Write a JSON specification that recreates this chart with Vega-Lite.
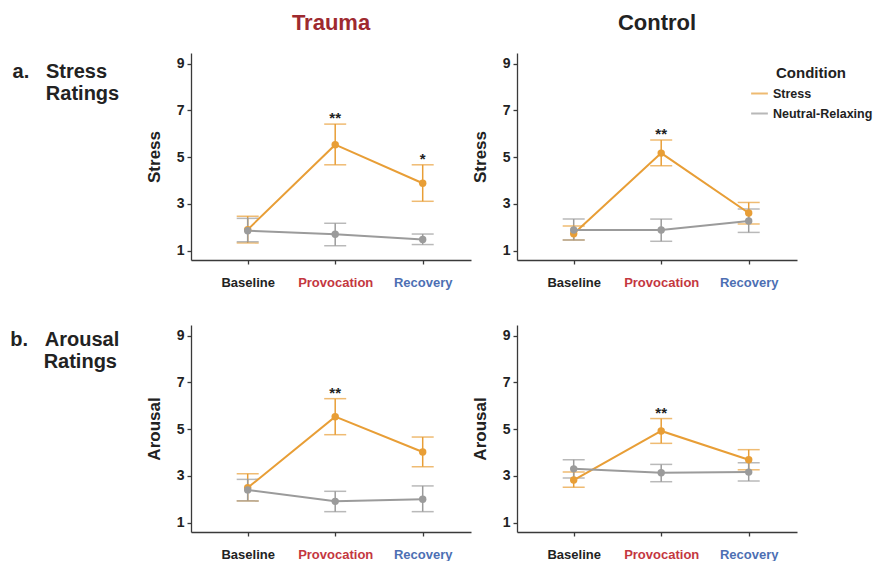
{
  "$schema": "https://vega.github.io/schema/vega-lite/v6.json",
  "padding": {"left": 10, "top": 12, "right": 0, "bottom": 0},
  "background": "white",
  "data": {"values": [
    {"group":"Trauma","measure":"Stress","phase":"Baseline","condition":"Stress","mean":1.9,"lower":1.33,"upper":2.47,"sig":""},
    {"group":"Trauma","measure":"Stress","phase":"Provocation","condition":"Stress","mean":5.53,"lower":4.67,"upper":6.41,"sig":"**"},
    {"group":"Trauma","measure":"Stress","phase":"Recovery","condition":"Stress","mean":3.88,"lower":3.11,"upper":4.67,"sig":"*"},
    {"group":"Control","measure":"Stress","phase":"Baseline","condition":"Stress","mean":1.72,"lower":1.45,"upper":2.05,"sig":""},
    {"group":"Control","measure":"Stress","phase":"Provocation","condition":"Stress","mean":5.17,"lower":4.63,"upper":5.73,"sig":"**"},
    {"group":"Control","measure":"Stress","phase":"Recovery","condition":"Stress","mean":2.61,"lower":2.14,"upper":3.06,"sig":""},
    {"group":"Trauma","measure":"Arousal","phase":"Baseline","condition":"Stress","mean":2.49,"lower":1.93,"upper":3.09,"sig":""},
    {"group":"Trauma","measure":"Arousal","phase":"Provocation","condition":"Stress","mean":5.53,"lower":4.76,"upper":6.3,"sig":"**"},
    {"group":"Trauma","measure":"Arousal","phase":"Recovery","condition":"Stress","mean":4.02,"lower":3.39,"upper":4.66,"sig":""},
    {"group":"Control","measure":"Arousal","phase":"Baseline","condition":"Stress","mean":2.82,"lower":2.51,"upper":3.16,"sig":""},
    {"group":"Control","measure":"Arousal","phase":"Provocation","condition":"Stress","mean":4.92,"lower":4.39,"upper":5.45,"sig":"**"},
    {"group":"Control","measure":"Arousal","phase":"Recovery","condition":"Stress","mean":3.69,"lower":3.26,"upper":4.12,"sig":""},
    {"group":"Trauma","measure":"Stress","phase":"Baseline","condition":"Neutral-Relaxing","mean":1.85,"lower":1.38,"upper":2.38,"sig":""},
    {"group":"Trauma","measure":"Stress","phase":"Provocation","condition":"Neutral-Relaxing","mean":1.7,"lower":1.21,"upper":2.17,"sig":""},
    {"group":"Trauma","measure":"Stress","phase":"Recovery","condition":"Neutral-Relaxing","mean":1.48,"lower":1.26,"upper":1.71,"sig":""},
    {"group":"Control","measure":"Stress","phase":"Baseline","condition":"Neutral-Relaxing","mean":1.88,"lower":1.45,"upper":2.35,"sig":""},
    {"group":"Control","measure":"Stress","phase":"Provocation","condition":"Neutral-Relaxing","mean":1.88,"lower":1.4,"upper":2.35,"sig":""},
    {"group":"Control","measure":"Stress","phase":"Recovery","condition":"Neutral-Relaxing","mean":2.27,"lower":1.78,"upper":2.78,"sig":""},
    {"group":"Trauma","measure":"Arousal","phase":"Baseline","condition":"Neutral-Relaxing","mean":2.4,"lower":1.93,"upper":2.85,"sig":""},
    {"group":"Trauma","measure":"Arousal","phase":"Provocation","condition":"Neutral-Relaxing","mean":1.91,"lower":1.47,"upper":2.34,"sig":""},
    {"group":"Trauma","measure":"Arousal","phase":"Recovery","condition":"Neutral-Relaxing","mean":2.0,"lower":1.47,"upper":2.57,"sig":""},
    {"group":"Control","measure":"Arousal","phase":"Baseline","condition":"Neutral-Relaxing","mean":3.3,"lower":2.91,"upper":3.69,"sig":""},
    {"group":"Control","measure":"Arousal","phase":"Provocation","condition":"Neutral-Relaxing","mean":3.13,"lower":2.75,"upper":3.49,"sig":""},
    {"group":"Control","measure":"Arousal","phase":"Recovery","condition":"Neutral-Relaxing","mean":3.16,"lower":2.78,"upper":3.56,"sig":""}
  ]},
  "spacing": 36,
  "vconcat": [
    {
      "transform": [{"filter": "datum.measure === 'Stress'"}],
      "title": {"text": ["a.\u00a0\u00a0\u00a0Stress", "\u200b\u00a0\u00a0\u00a0\u00a0\u00a0\u00a0Ratings"], "orient": "left", "angle": 0, "align": "left", "baseline": "alphabetic", "anchor": "end", "frame": "bounds", "offset": 26, "dy": 66, "fontSize": 20, "lineHeight": 22, "fontWeight": "bold", "color": "#222"},
      "facet": {"column": {"field": "group", "type": "nominal", "sort": ["Trauma", "Control"], "title": null,
        "header": {"labelFontSize": 22, "labelFontWeight": "bold", "labelBaseline": "alphabetic", "labelPadding": 1, "labelColor": {"expr": "parent.group === 'Trauma' ? '#9e2a2f' : '#222'"}}}},
      "spacing": 0,
      "resolve": {"axis": {"y": "independent"}},
      "spec": {
        "width": 280, "height": 207,
        "encoding": {
          "x": {"field": "phase", "type": "nominal", "sort": ["Baseline", "Provocation", "Recovery"], "scale": {"type": "point", "padding": 0.6, "align": 0.54}, "title": null,
            "axis": {"labelColor": {"expr": "datum.value === 'Provocation' ? '#c4373f' : datum.value === 'Recovery' ? '#4d6fb3' : '#222'"}}}
        },
        "layer": [
          {"mark": {"type": "rule", "strokeWidth": 1.5},
           "encoding": {"y": {"field": "lower", "type": "quantitative", "scale": {"domain": [0.6, 9.45], "nice": false, "zero": false}, "axis": {"values": [1,3,5,7,9]}, "title": "Stress"}, "y2": {"field": "upper"},
             "color": {"field": "condition", "type": "nominal", "scale": {"domain": ["Stress", "Neutral-Relaxing"], "range": ["#E89E36", "#9B9B9B"]}, "legend": {"orient": "none", "legendX": 559, "legendY": 13, "title": "Condition", "symbolType": "stroke", "symbolStrokeWidth": 2, "symbolSize": 280, "labelFontSize": 12.5, "labelFontWeight": "bold", "titleFontSize": 15, "titleFontWeight": "bold", "titleAnchor": "middle", "titlePadding": 3, "rowPadding": 4}}}},
          {"mark": {"type": "tick", "orient": "horizontal", "size": 22, "thickness": 1.5},
           "encoding": {"y": {"field": "lower", "type": "quantitative", "scale": {"domain": [0.6, 9.45], "nice": false, "zero": false}, "axis": {"values": [1,3,5,7,9]}, "title": "Stress"},
             "color": {"field": "condition", "type": "nominal", "scale": {"domain": ["Stress", "Neutral-Relaxing"], "range": ["#E89E36", "#9B9B9B"]}}}},
          {"mark": {"type": "tick", "orient": "horizontal", "size": 22, "thickness": 1.5},
           "encoding": {"y": {"field": "upper", "type": "quantitative", "scale": {"domain": [0.6, 9.45], "nice": false, "zero": false}, "axis": {"values": [1,3,5,7,9]}, "title": "Stress"},
             "color": {"field": "condition", "type": "nominal", "scale": {"domain": ["Stress", "Neutral-Relaxing"], "range": ["#E89E36", "#9B9B9B"]}}}},
          {"mark": {"type": "line", "strokeWidth": 2},
           "encoding": {"y": {"field": "mean", "type": "quantitative", "scale": {"domain": [0.6, 9.45], "nice": false, "zero": false}, "axis": {"values": [1,3,5,7,9]}, "title": "Stress"},
             "color": {"field": "condition", "type": "nominal", "scale": {"domain": ["Stress", "Neutral-Relaxing"], "range": ["#E89E36", "#9B9B9B"]}}}},
          {"mark": {"type": "point", "filled": true, "size": 55, "opacity": 1},
           "encoding": {"y": {"field": "mean", "type": "quantitative", "scale": {"domain": [0.6, 9.45], "nice": false, "zero": false}, "axis": {"values": [1,3,5,7,9]}, "title": "Stress"},
             "color": {"field": "condition", "type": "nominal", "scale": {"domain": ["Stress", "Neutral-Relaxing"], "range": ["#E89E36", "#9B9B9B"]}}}},
          {"mark": {"type": "text", "fontSize": 15, "fontWeight": "bold", "baseline": "alphabetic", "dy": -1, "color": "#222"},
           "encoding": {"y": {"field": "upper", "type": "quantitative", "scale": {"domain": [0.6, 9.45], "nice": false, "zero": false}, "axis": {"values": [1,3,5,7,9]}, "title": "Stress"}, "text": {"field": "sig"}}}
        ]
      }
    },
    {
      "transform": [{"filter": "datum.measure === 'Arousal'"}],
      "title": {"text": ["b.\u00a0\u00a0\u00a0Arousal", "\u200b\u00a0\u00a0\u00a0\u00a0\u00a0\u00a0Ratings"], "orient": "left", "angle": 0, "align": "left", "baseline": "alphabetic", "anchor": "end", "frame": "bounds", "offset": 26, "dy": 21, "fontSize": 20, "lineHeight": 22, "fontWeight": "bold", "color": "#222"},
      "facet": {"column": {"field": "group", "type": "nominal", "sort": ["Trauma", "Control"], "title": null, "header": {"labels": false}}},
      "spacing": 0,
      "resolve": {"axis": {"y": "independent"}},
      "spec": {
        "width": 280, "height": 207,
        "encoding": {
          "x": {"field": "phase", "type": "nominal", "sort": ["Baseline", "Provocation", "Recovery"], "scale": {"type": "point", "padding": 0.6, "align": 0.54}, "title": null,
            "axis": {"labelColor": {"expr": "datum.value === 'Provocation' ? '#c4373f' : datum.value === 'Recovery' ? '#4d6fb3' : '#222'"}}}
        },
        "layer": [
          {"mark": {"type": "rule", "strokeWidth": 1.5},
           "encoding": {"y": {"field": "lower", "type": "quantitative", "scale": {"domain": [0.6, 9.45], "nice": false, "zero": false}, "axis": {"values": [1,3,5,7,9]}, "title": "Arousal"}, "y2": {"field": "upper"},
             "color": {"field": "condition", "type": "nominal", "scale": {"domain": ["Stress", "Neutral-Relaxing"], "range": ["#E89E36", "#9B9B9B"]}}}},
          {"mark": {"type": "tick", "orient": "horizontal", "size": 22, "thickness": 1.5},
           "encoding": {"y": {"field": "lower", "type": "quantitative", "scale": {"domain": [0.6, 9.45], "nice": false, "zero": false}, "axis": {"values": [1,3,5,7,9]}, "title": "Arousal"},
             "color": {"field": "condition", "type": "nominal", "scale": {"domain": ["Stress", "Neutral-Relaxing"], "range": ["#E89E36", "#9B9B9B"]}}}},
          {"mark": {"type": "tick", "orient": "horizontal", "size": 22, "thickness": 1.5},
           "encoding": {"y": {"field": "upper", "type": "quantitative", "scale": {"domain": [0.6, 9.45], "nice": false, "zero": false}, "axis": {"values": [1,3,5,7,9]}, "title": "Arousal"},
             "color": {"field": "condition", "type": "nominal", "scale": {"domain": ["Stress", "Neutral-Relaxing"], "range": ["#E89E36", "#9B9B9B"]}}}},
          {"mark": {"type": "line", "strokeWidth": 2},
           "encoding": {"y": {"field": "mean", "type": "quantitative", "scale": {"domain": [0.6, 9.45], "nice": false, "zero": false}, "axis": {"values": [1,3,5,7,9]}, "title": "Arousal"},
             "color": {"field": "condition", "type": "nominal", "scale": {"domain": ["Stress", "Neutral-Relaxing"], "range": ["#E89E36", "#9B9B9B"]}}}},
          {"mark": {"type": "point", "filled": true, "size": 55, "opacity": 1},
           "encoding": {"y": {"field": "mean", "type": "quantitative", "scale": {"domain": [0.6, 9.45], "nice": false, "zero": false}, "axis": {"values": [1,3,5,7,9]}, "title": "Arousal"},
             "color": {"field": "condition", "type": "nominal", "scale": {"domain": ["Stress", "Neutral-Relaxing"], "range": ["#E89E36", "#9B9B9B"]}}}},
          {"mark": {"type": "text", "fontSize": 15, "fontWeight": "bold", "baseline": "alphabetic", "dy": -1, "color": "#222"},
           "encoding": {"y": {"field": "upper", "type": "quantitative", "scale": {"domain": [0.6, 9.45], "nice": false, "zero": false}, "axis": {"values": [1,3,5,7,9]}, "title": "Arousal"}, "text": {"field": "sig"}}}
        ]
      }
    }
  ],
  "config": {
    "font": "Liberation Sans",
    "view": {"stroke": null},
    "axis": {"grid": false, "domainColor": "#3a3a3a", "domainWidth": 1.3, "tickColor": "#3a3a3a", "tickWidth": 1.3, "tickSize": 4, "labelFontWeight": "bold", "labelColor": "#222", "titleFontWeight": "bold", "titleColor": "#222"},
    "axisX": {"labelFontSize": 13, "labelPadding": 12, "labelAngle": 0},
    "axisY": {"labelFontSize": 14, "labelPadding": 3, "titleFontSize": 17, "titlePadding": 13},
    "legend": {"labelColor": "#222", "titleColor": "#222"}
  }
}
